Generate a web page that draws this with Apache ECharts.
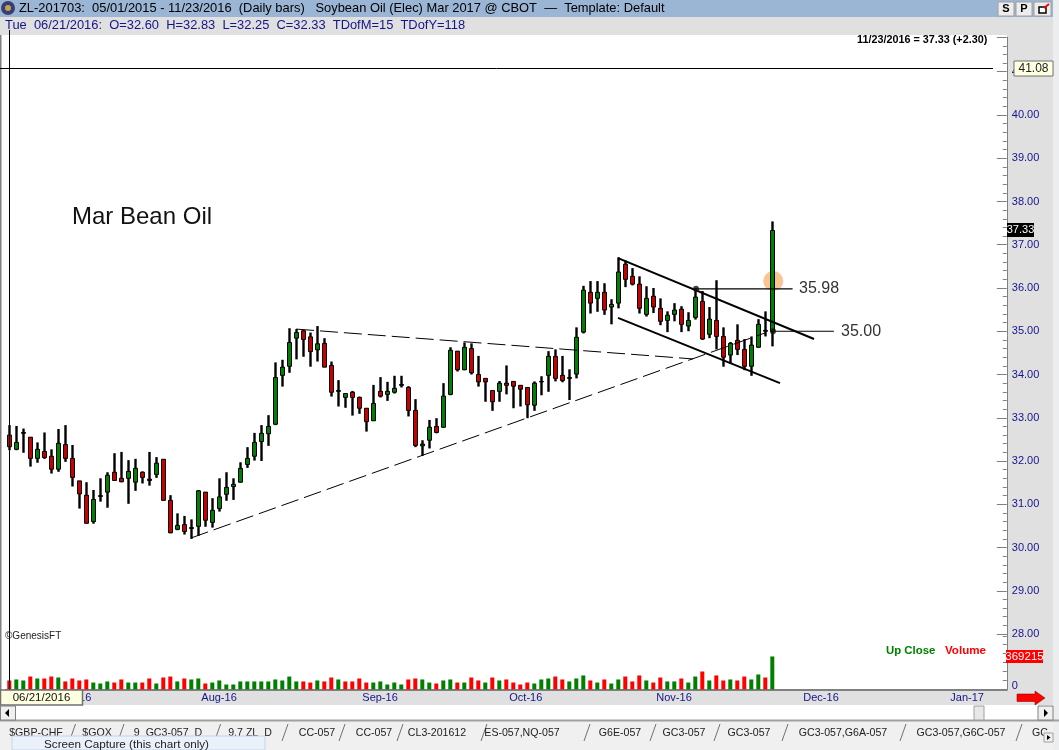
<!DOCTYPE html>
<html><head><meta charset="utf-8">
<style>html,body{margin:0;padding:0;background:#fff}#c{width:1059px;height:750px}</style>
<script src="https://cdn.jsdelivr.net/npm/echarts@6/dist/echarts.min.js"></script>
</head><body><div id="c"></div>
<script>
const opens=[32.60,32.27,32.66,32.55,32.06,32.22,32.11,31.81,32.38,32.06,31.54,31.21,30.60,31.20,31.28,31.74,31.60,31.60,31.51,31.74,31.58,31.69,32.04,31.09,30.42,30.53,30.46,30.49,31.28,30.58,30.90,31.23,31.41,31.51,31.92,32.11,32.45,32.63,32.85,33.98,34.19,34.84,35.01,34.87,34.57,34.72,34.21,33.63,33.47,33.59,33.47,33.22,32.93,33.61,33.54,33.59,33.77,33.70,33.17,32.35,32.48,32.80,32.78,33.54,34.54,34.11,34.60,34.00,33.91,33.63,33.61,33.80,33.84,33.75,33.70,33.29,33.84,33.98,34.42,33.98,33.93,34.01,34.98,35.90,35.76,35.90,35.56,35.65,36.55,36.27,36.09,35.39,35.81,35.53,35.25,35.39,35.51,35.12,35.32,35.69,34.93,35.25,34.88,34.45,34.79,34.58,34.19,34.63,35.02,35.00];
const closes=[32.33,32.43,32.64,32.06,32.27,32.08,31.81,32.41,32.06,31.62,31.24,30.56,31.11,31.18,31.67,31.55,31.52,31.76,31.83,31.62,31.55,31.95,31.09,30.34,30.51,30.37,30.44,31.31,30.63,30.86,31.17,31.39,31.46,31.83,32.06,32.43,32.64,32.80,33.93,34.17,34.74,34.97,34.81,34.53,34.71,34.17,33.59,33.61,33.56,33.47,33.22,32.91,33.33,33.50,33.61,33.68,33.75,33.17,32.36,32.39,32.78,32.66,33.50,34.56,34.11,34.63,34.04,33.83,33.83,33.37,33.80,33.75,33.73,33.66,33.30,33.80,33.83,34.42,33.91,33.86,33.91,34.86,35.95,35.65,35.90,35.49,35.62,36.37,36.20,36.09,35.53,35.76,35.56,35.23,35.37,35.49,35.16,35.25,35.79,34.82,35.28,34.88,34.40,34.72,34.58,34.19,34.68,35.16,35.00,37.33];
const lows=[32.25,32.25,32.19,31.87,31.96,32.05,31.71,31.75,31.98,31.41,30.90,30.56,30.55,31.06,30.92,31.54,31.51,31.01,31.31,31.48,31.43,31.61,31.09,30.33,30.40,30.30,30.20,30.27,30.48,30.46,30.83,31.08,31.10,31.50,31.84,32.01,32.00,32.35,32.83,33.72,34.04,34.35,34.41,34.18,34.30,34.17,33.49,33.26,33.23,33.05,33.09,32.68,32.93,33.47,33.39,33.56,33.70,33.03,32.32,32.12,32.29,32.64,32.77,33.52,34.07,34.10,34.00,33.72,33.37,33.16,33.37,33.54,33.22,33.26,32.99,33.16,33.52,33.60,33.84,33.82,33.41,33.91,34.95,35.41,35.45,35.38,35.16,35.53,36.02,36.06,35.41,35.34,35.42,35.14,34.98,35.23,34.98,35.00,35.27,34.80,34.84,34.58,34.18,34.25,34.45,34.10,33.97,34.62,34.88,34.65];
const highs=[32.83,32.81,32.75,32.55,32.43,32.66,32.27,32.74,32.83,32.37,31.54,31.51,31.33,31.60,31.74,32.18,32.21,32.02,32.05,31.76,32.21,32.09,32.04,31.21,30.79,30.73,30.65,31.33,31.28,31.14,31.60,31.74,31.60,31.97,32.32,32.65,32.83,33.06,34.28,34.34,35.07,35.05,35.03,34.97,35.12,34.84,34.30,33.87,33.56,33.62,33.49,33.22,33.76,33.94,33.83,33.97,33.97,33.73,33.43,32.48,32.95,32.99,33.80,34.63,34.54,34.74,34.72,34.43,33.91,33.63,33.85,34.21,33.84,33.75,33.70,33.84,33.96,34.54,34.58,34.43,34.12,35.09,36.05,36.16,36.16,36.11,35.74,36.71,36.64,36.46,36.27,36.04,36.00,35.76,35.46,35.65,35.58,35.44,36.00,35.93,35.56,36.18,35.09,34.75,35.16,34.82,34.88,35.28,35.46,37.54];
const volumes=[101000,112000,101000,145000,123000,123000,145000,134000,90000,123000,101000,112000,78000,67000,90000,78000,112000,78000,78000,78000,123000,67000,134000,145000,90000,123000,112000,123000,67000,78000,101000,56000,56000,90000,90000,90000,90000,90000,112000,101000,145000,90000,90000,78000,101000,90000,134000,112000,90000,90000,123000,78000,78000,90000,56000,78000,56000,112000,123000,112000,78000,67000,101000,112000,78000,78000,134000,101000,78000,134000,101000,112000,78000,56000,78000,67000,112000,123000,145000,112000,90000,123000,157000,101000,78000,112000,67000,112000,145000,90000,157000,101000,78000,134000,90000,90000,123000,78000,145000,201000,101000,157000,101000,112000,101000,145000,112000,168000,134000,369215];
const monthLabels=['Jul-16','Aug-16','Sep-16','Oct-16','Nov-16','Dec-16','Jan-17'];
const monthLabelBars=[7,27,50,71,92,113,134];
const priceTicks=[28,29,30,31,32,33,34,35,36,37,38,39,40,41];
const channelUpper=[[86.96,36.69],[114.96,34.82]];
const channelLower=[[86.96,35.31],[110.1,33.80]];
const resistance=[[40.96,35.05],[97.67,34.36]];
const support=[[25.96,30.22],[107.96,34.96]];
const level3598=[[98.1,35.98],[111.9,35.98]];
const level3500=[[109.1,35.00],[117.8,35.00]];
const highlight=[[109.14,36.16]];
const levelDots=[[98.1,35.98],[109.1,35.00]];
const tabs=[['$GBP-CHF',36],['$GOX',97],['9_GC3-057_D',168],['9.7 ZL_D',250],['CC-057',317],['CC-057',374],['CL3-201612',437],['ES-057,NQ-057',522],['G6E-057',620],['GC3-057',684],['GC3-057',749],['GC3-057,G6A-057',843],['GC3-057,G6C-057',961],['GC',1040]];
const tabSeps=[72.5,121,217.6,285,342,400,484,587,653,717,785,903,1019];

const SANS='"Liberation Sans",Arial,sans-serif';
const NAVY='#14148c';
const bars=143;
const categories=Array.from({length:bars},(_,i)=>{const k=monthLabelBars.indexOf(i);return k>=0?monthLabels[k]:'';});
const bodyData=opens.map((o,i)=>[o,closes[i],Math.min(o,closes[i]),Math.max(o,closes[i])]);
const ohlc=opens.map((o,i)=>[o,closes[i],lows[i],highs[i]]);
const volData=volumes.map((v,i)=>({value:v,itemStyle:{color:(i===0?closes[0]<opens[0]:closes[i]<closes[i-1])?'#ff0000':'#008000'}}));

const rect=(x,y,w,h,fill,z,stroke,lw)=>({type:'rect',z:z==null?-10:z,silent:true,shape:{x,y,width:w,height:h},style:{fill,stroke:stroke||null,lineWidth:lw||0}});
const text=(x,y,t,o)=>({type:'text',z:(o&&o.z)||50,silent:true,x,y,style:Object.assign({text:t,fill:'#000',font:'12px '+SANS,textAlign:'left',textVerticalAlign:'middle'},o||{})});
const seg=(x1,y1,x2,y2,c,lw,z)=>({type:'line',z:z==null?50:z,silent:true,shape:{x1,y1,x2,y2},style:{stroke:c,lineWidth:lw||1}});

const graphic=[
 rect(0,0,1059,17,'#9bb5d4'),
 rect(0,17,1059,18,'#e0e0e0'),
 rect(1007,35,52,670,'#e0e0e0'),
 rect(0,690,1059,15,'#e0e0e0'),
 rect(0,35,1.5,655,'#808080'),
 rect(0,705,1059,15,'#ffffff'),
 rect(0,720,1059,30,'#f0f0f0'),
 seg(0,720.5,1059,720.5,'#a0a0a0',2,-5),
 rect(1053,0,6,750,'#ecedef'),
 {type:'circle',z:20,silent:true,shape:{cx:8,cy:8,r:7},style:{fill:'#3a3f73'}},
 {type:'circle',z:21,silent:true,shape:{cx:8,cy:8,r:3},style:{fill:'#c8a24a'}},
 text(19,8.5,'ZL-201703:  05/01/2015 - 11/23/2016  (Daily bars)   Soybean Oil (Elec) Mar 2017 @ CBOT  \u2014  Template: Default',{font:'12.9px '+SANS}),
 text(5,25,'Tue  06/21/2016:  O=32.60  H=32.83  L=32.25  C=32.33  TDofM=15  TDofY=118',{fill:NAVY,font:'12.9px '+SANS}),
 rect(998,2,16,14,'#ededed',20,'#a0a0a0',1), text(1006,9,'S',{textAlign:'center',font:'bold 11px '+SANS}),
 rect(1016,2,16,14,'#ededed',20,'#a0a0a0',1), text(1024,9,'P',{textAlign:'center',font:'bold 11px '+SANS}),
 rect(1034,2,17,14,'#ededed',20,'#a0a0a0',1), rect(1039,7,7,6,'#ffffff',21,'#000',1.5), seg(1044,8,1049,4,'#ff0000',2,22),
 text(857,40,'11/23/2016 = 37.33 (+2.30)',{font:'bold 10.8px '+SANS}),
 text(72,217,'Mar Bean Oil',{font:'24px '+SANS,fill:'#111'}),
 text(5,636,'\u00a9GenesisFT',{font:'10px '+SANS,fill:'#222'}),
 text(886,651,'Up Close',{font:'bold 11.4px '+SANS,fill:'#008000'}),
 text(945,651,'Volume',{font:'bold 11.6px '+SANS,fill:'#ff0000'}),
 text(799,289,'35.98',{font:'16px '+SANS,fill:'#333'}),
 text(841,332,'35.00',{font:'16px '+SANS,fill:'#333'}),
 rect(1014,61,39,15,'#ffffe1',40,'#707070',1), text(1033.5,68.5,'41.08',{textAlign:'center',font:'12px '+SANS,fill:'#222'}),
 rect(1007,223,27,14,'#000000',40), text(1020.5,230,'37.33',{textAlign:'center',font:'11px '+SANS,fill:'#fff'}),
 rect(1006,650,37,13,'#ff0000',40), text(1024.5,656.5,'369215',{textAlign:'center',font:'11.5px '+SANS,fill:'#fff'}),
 rect(0.5,690,82,15,'#ffffe1',40,'#707070',1.5), text(41.5,697.5,'06/21/2016',{textAlign:'center',font:'11.5px '+SANS,fill:'#111'}),
 {type:'polygon',z:40,silent:true,shape:{points:[[1017,694],[1035,694],[1035,691],[1045,698],[1035,705],[1035,701.5],[1017,701.5]]},style:{fill:'#ff0000',stroke:'#600',lineWidth:0.5}},
 seg(9.5,30,9.5,690,'#000',1,30),
 seg(0,68.5,993,68.5,'#000',1,30),
 rect(0.5,706,15,14,'#f0f0f0',20,'#808080',1),
 {type:'polygon',z:21,silent:true,shape:{points:[[9,709],[9,717],[5,713]]},style:{fill:'#000'}},
 rect(1038,706,15,14,'#f0f0f0',20,'#808080',1),
 {type:'polygon',z:21,silent:true,shape:{points:[[1044,709],[1044,717],[1048,713]]},style:{fill:'#000'}},
 rect(974,706,10,14,'#e8e8e8',20,'#a0a0a0',1),
 rect(12,736,253,14,'#eaf1fb',25,'#c5d5ea',1),
 text(44,745,'Screen Capture (this chart only)',{font:'11.7px '+SANS,fill:'#222',z:26}),
 rect(1044,733,9,9,'#f0f0f0',30,'#a0a0a0',1),
 {type:'polygon',z:31,silent:true,shape:{points:[[1047,735],[1047,740],[1050.5,737.5]]},style:{fill:'#000'}}
];
tabs.forEach(t=>graphic.push(text(t[1],733,t[0],{textAlign:'center',font:'10.6px '+SANS,fill:'#222',z:22})));
tabSeps.forEach(x=>graphic.push(seg(x-3,741,x+3,724,'#707070',1,21)));

const thinLine=(name,d,type,w)=>({name,type:'line',xAxisIndex:2,yAxisIndex:0,data:d,showSymbol:false,clip:false,silent:true,z:5,animation:false,lineStyle:{color:'#000',width:w,type:type,cap:'butt'}});

const option={
 animation:false,backgroundColor:'#ffffff',
 graphic:{elements:graphic},
 grid:[{left:5.8,width:1001,top:37.15,height:596.85,containLabel:false},{left:5.8,width:1001,top:634,height:55.5}],
 xAxis:[
  {type:'category',gridIndex:0,data:categories,show:false,boundaryGap:true},
  {type:'category',gridIndex:1,data:categories,boundaryGap:true,axisLine:{lineStyle:{color:'#808080',width:2}},axisTick:{show:false},
   axisLabel:{interval:i=>categories[i]!=='',align:'left',color:NAVY,fontFamily:SANS,fontSize:11,margin:3,padding:[0,0,0,3],showMinLabel:true,showMaxLabel:true,hideOverlap:false}},
  {type:'value',gridIndex:0,show:false,min:-0.5,max:142.5}
 ],
 yAxis:[
  {type:'value',gridIndex:0,position:'right',min:28,max:41.8,interval:1,scale:true,splitLine:{show:false},
   axisLine:{show:true,onZero:false,lineStyle:{color:'#808080',width:1}},
   axisTick:{show:true,inside:true,length:10,lineStyle:{color:'#808080'}},
   minorTick:{show:true,splitNumber:5,length:4,lineStyle:{color:'#808080'}},minorSplitLine:{show:false},
   axisLabel:{color:NAVY,fontFamily:SANS,fontSize:11,margin:5,showMaxLabel:false,formatter:v=>priceTicks.includes(v)?v.toFixed(2):''}},
  {type:'value',gridIndex:1,position:'right',min:0,max:620000,interval:100000,splitLine:{show:false},
   axisLine:{show:true,onZero:false,lineStyle:{color:'#808080',width:1}},
   axisTick:{show:true,inside:true,length:4,lineStyle:{color:'#808080'}},
   axisLabel:{color:NAVY,fontFamily:SANS,fontSize:11,margin:5,verticalAlign:'bottom',lineHeight:8,formatter:v=>v===0?'0':''}}
 ],
 series:[
  {name:'Highlight',type:'scatter',xAxisIndex:2,yAxisIndex:0,data:highlight,symbolSize:20,z:1,silent:true,itemStyle:{color:'#f9b67a'}},
  {name:'Range',type:'candlestick',xAxisIndex:0,yAxisIndex:0,data:ohlc,barWidth:1,z:3,silent:true,itemStyle:{color:'#000',color0:'#000',borderColor:'#000',borderColor0:'#000',borderColorDoji:'#000',borderWidth:2.4}},
  {name:'Body',type:'candlestick',xAxisIndex:0,yAxisIndex:0,data:bodyData,barWidth:4,z:4,silent:true,itemStyle:{color:'#008000',color0:'#c80000',borderColor:'#000',borderColor0:'#000',borderColorDoji:'#000',borderWidth:1}},
  thinLine('Resistance',resistance,[18,6],1),
  thinLine('Support',support,[18,6],1),
  thinLine('Channel upper',channelUpper,'solid',2),
  thinLine('Channel lower',channelLower,'solid',2),
  thinLine('35.98',level3598,'solid',1.2),
  thinLine('35.00',level3500,'solid',1.2),
  {name:'Level dots',type:'scatter',xAxisIndex:2,yAxisIndex:0,data:levelDots,symbolSize:6,z:6,silent:true,itemStyle:{color:'#111'}},
  {name:'Volume',type:'bar',xAxisIndex:1,yAxisIndex:1,data:volData,barWidth:4,silent:true}
 ]
};
const chart=echarts.init(document.getElementById('c'),null,{renderer:'canvas'});
chart.setOption(option);
</script></body></html>
